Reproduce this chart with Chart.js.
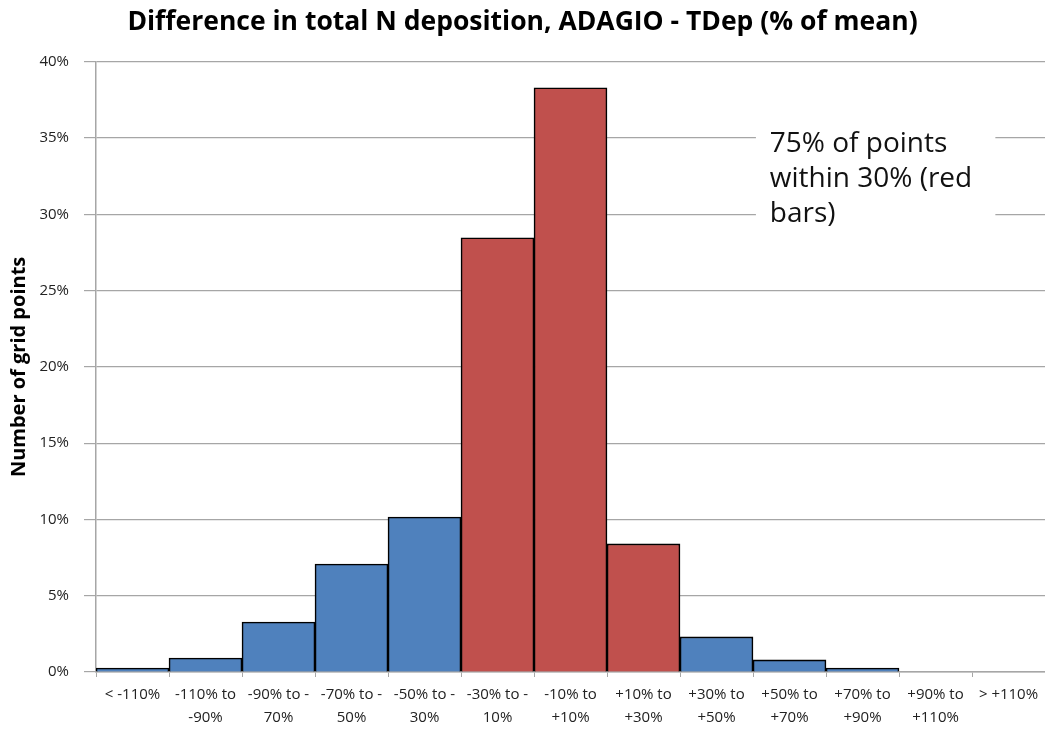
<!DOCTYPE html>
<html>
<head>
<meta charset="utf-8">
<script src="https://cdn.jsdelivr.net/npm/chart.js@4.4.1/dist/chart.umd.min.js"></script>
<style>
  html, body { margin: 0; padding: 0; background: #fff; }
  #wrap { width: 1045px; height: 730px; }
</style>
</head>
<body>
<div id="wrap"><canvas id="myChart" width="1045" height="730"></canvas></div>
<script>
// Histogram bins (two-line labels as drawn on the x axis)
const categories = [
  ['< -110%'], ['-110% to', '-90%'], ['-90% to -', '70%'], ['-70% to -', '50%'],
  ['-50% to -', '30%'], ['-30% to -', '10%'], ['-10% to', '+10%'], ['+10% to', '+30%'],
  ['+30% to', '+50%'], ['+50% to', '+70%'], ['+70% to', '+90%'], ['+90% to', '+110%'],
  ['> +110%']
];
// Share of grid points in each bin (%)
const shares = [0.26, 0.92, 3.28, 7.08, 10.16, 28.46, 38.3, 8.4, 2.3, 0.79, 0.26, 0, 0];
const yTicks = [0, 5, 10, 15, 20, 25, 30, 35, 40];
const noteLines = ['75% of points', 'within 30% (red', 'bars)'];

const redBins = [5, 6, 7];
const blue = '#4f81bd';
const red = '#c0504d';
const grey = '#a6a6a6';
const font = '"Open Sans", "DejaVu Sans", sans-serif';

// white box with the note text, placed on the scales
const notePlugin = {
  id: 'note',
  afterDraw(chart) {
    const x = chart.scales.x, y = chart.scales.y;
    const ctx = chart.ctx;
    const left = x.getPixelForValue(8.73);
    const boxL = x.getPixelForValue(8.54), boxR = x.getPixelForValue(11.82);
    const boxT = y.getPixelForValue(36.9), boxB = y.getPixelForValue(28.6);
    ctx.save();
    ctx.fillStyle = '#fff';
    ctx.fillRect(boxL, boxT, boxR - boxL, boxB - boxT);
    ctx.fillStyle = '#111';
    ctx.font = '28px ' + font;
    ctx.textBaseline = 'alphabetic';
    ctx.textAlign = 'left';
    const base = y.getPixelForValue(34.1);
    noteLines.forEach((t, i) => ctx.fillText(t, left, base + i * 35));
    ctx.restore();
  }
};

const ctx = document.getElementById('myChart').getContext('2d');
const myChart = new Chart(ctx, {
  type: 'bar',
  data: {
    labels: categories,
    datasets: [{
      data: shares,
      backgroundColor: shares.map((v, i) => redBins.includes(i) ? red : blue),
      borderColor: '#000',
      borderWidth: 1.6,
      barPercentage: 1,
      categoryPercentage: 1
    }]
  },
  options: {
    responsive: false,
    animation: false,
    layout: { padding: 0 },
    plugins: {
      legend: { display: false },
      tooltip: { enabled: false },
      title: {
        display: true,
        text: 'Difference in total N deposition, ADAGIO - TDep (% of mean)',
        color: '#000',
        font: { family: font, size: 26.5, weight: 'bold', lineHeight: 1.2 },
        padding: { top: 7, bottom: 23 }
      }
    },
    scales: {
      x: {
        afterFit(scale) { scale.height = 58; },
        grid: { offset: true, drawOnChartArea: false, tickLength: 5, color: grey, lineWidth: 1 },
        border: { color: grey, width: 1.5 },
        ticks: {
          color: '#222', padding: 6, maxRotation: 0, autoSkip: false,
          font: { family: font, size: 15, lineHeight: 1.55 }
        }
      },
      y: {
        min: 0,
        max: 40,
        afterFit(scale) { scale.width = 96; },
        afterBuildTicks(scale) { scale.ticks = yTicks.map(v => ({ value: v })); },
        grid: { color: grey, lineWidth: 1.2, tickLength: 12, drawTicks: true },
        border: { color: grey, width: 1.5 },
        ticks: {
          color: '#222', padding: 15,
          font: { family: font, size: 15 },
          callback: v => v + '%'
        },
        title: {
          display: true,
          text: 'Number of grid points',
          color: '#000',
          font: { family: font, size: 20, weight: 'bold', lineHeight: 1.2 },
          padding: { top: 7, bottom: 0 }
        }
      }
    }
  },
  plugins: [notePlugin]
});
</script>
</body>
</html>
